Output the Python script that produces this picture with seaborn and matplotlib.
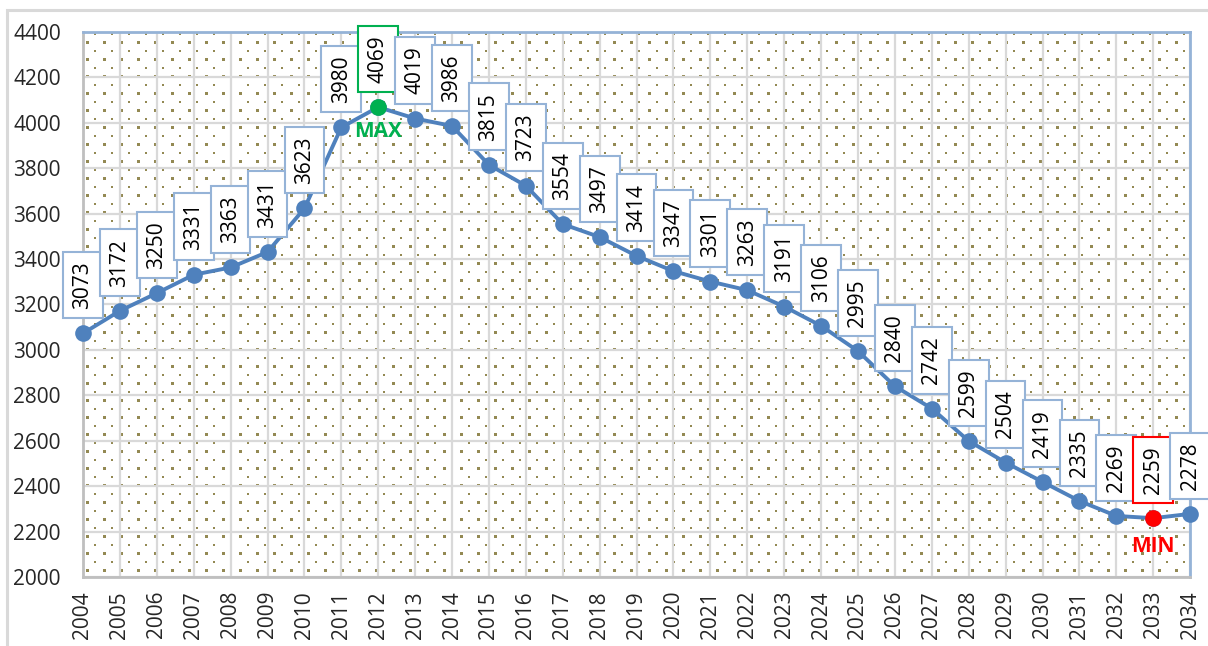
import numpy as np
import pandas as pd
import matplotlib
matplotlib.use("Agg")
import matplotlib.pyplot as plt
from matplotlib.patches import Rectangle
import seaborn as sns

years = list(range(2004, 2035))
values = [3073, 3172, 3250, 3331, 3363, 3431, 3623, 3980, 4069, 4019, 3986,
          3815, 3723, 3554, 3497, 3414, 3347, 3301, 3263, 3191, 3106, 2995,
          2840, 2742, 2599, 2504, 2419, 2335, 2269, 2259, 2278]
y_ticks = list(range(2000, 4401, 200))

sns.set_style("white")
plt.rcParams['font.family'] = ['Open Sans', 'DejaVu Sans']

df = pd.DataFrame({"year": years, "value": values})

W, H = 1208, 646
fig = plt.figure(figsize=(W / 100, H / 100), dpi=100)
ax_box = [0.0687, 0.1068, 0.9165, 0.8437]
ax = fig.add_axes(ax_box)

# outer chart frame (top/left visible only)
fig.patches.append(Rectangle((0.006, -0.2), 1.2, 1.1845, transform=fig.transFigure,
                             fill=False, edgecolor='#d9d9d9', linewidth=2.2, zorder=0))

# dotted plot-area texture (big + small olive dots, 17 px period)
pw, ph = int(round(ax_box[2] * W)), int(round(ax_box[3] * H))
tex = np.ones((ph, pw, 3))
dot = np.array([0x93, 0x89, 0x53]) / 255.0
for yy in range(10, ph, 17):
    for xx in range(3, pw, 17):
        tex[yy:yy + 3, xx:xx + 3] = dot
for yy in range(2, ph, 17):
    for xx in range(11, pw, 17):
        tex[yy:yy + 2, xx:xx + 2] = dot
ax.imshow(tex, extent=(0, 1, 0, 1), transform=ax.transAxes, aspect='auto',
          interpolation='nearest', zorder=0.1)

line_color = '#4f81bd'
sns.lineplot(data=df, x="year", y="value", ax=ax, color=line_color, linewidth=2.8,
             marker='o', markersize=12, markeredgewidth=0, clip_on=False, zorder=3)

i_max = int(np.argmax(values))
i_min = int(np.argmin(values))
ax.plot(years[i_max], values[i_max], 'o', color='#00b050', markersize=12,
        markeredgewidth=0, zorder=4)
ax.plot(years[i_min], values[i_min], 'o', color='#ff0000', markersize=12,
        markeredgewidth=0, zorder=4)

for i, (yr, v) in enumerate(zip(years, values)):
    edge = '#95b3d7'
    if i == i_max:
        edge = '#00b050'
    elif i == i_min:
        edge = '#ff0000'
    ax.annotate(str(v), xy=(yr, v), xytext=(0, 17.5), textcoords='offset points',
                rotation=90, ha='center', va='bottom', fontsize=15, color='black',
                bbox=dict(boxstyle='square,pad=0.45', facecolor='white',
                          edgecolor=edge, linewidth=1.5), zorder=5)

ax.annotate("MAX", xy=(years[i_max], values[i_max]), xytext=(0, -17.5),
            textcoords='offset points', ha='center', va='center',
            fontsize=15, fontweight='bold', color='#00b050', zorder=5)
ax.annotate("MIN", xy=(years[i_min], values[i_min]), xytext=(0, -20.5),
            textcoords='offset points', ha='center', va='center',
            fontsize=15, fontweight='bold', color='#ff0000', zorder=5)

ax.set_xlim(years[0], years[-1])
ax.set_ylim(y_ticks[0], y_ticks[-1])
ax.set_xticks(years)
ax.set_xticklabels([str(y) for y in years], rotation=90)
ax.set_yticks(y_ticks)
ax.tick_params(axis='x', length=0, pad=10, labelsize=15)
ax.tick_params(axis='y', length=0, pad=16, labelsize=15)
ax.set_xlabel("")
ax.set_ylabel("")

ax.grid(True, color='#d9d9d9', linewidth=1.6, zorder=0.5)
ax.set_axisbelow(True)

for side in ['left', 'bottom']:
    ax.spines[side].set_color('#bfbfbf')
    ax.spines[side].set_linewidth(2)
for side in ['top', 'right']:
    ax.spines[side].set_color('#95b3d7')
    ax.spines[side].set_linewidth(2)
    ax.spines[side].set_visible(True)

fig.savefig("out.png", dpi=100)
